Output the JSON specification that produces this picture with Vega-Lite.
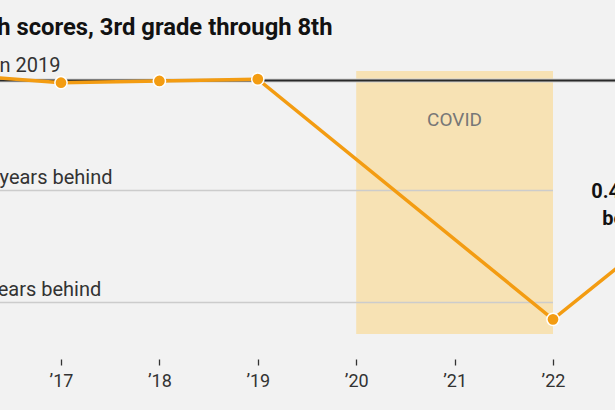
{
  "$schema": "https://vega.github.io/schema/vega-lite/v6.json",
  "width": 615,
  "height": 359,
  "autosize": {"type": "none"},
  "padding": {"left": 0, "top": 0, "right": 0, "bottom": 51},
  "background": "#f2f2f2",
  "config": {
    "view": {"stroke": null},
    "font": "Roboto",
    "axis": {"labelFont": "Roboto", "labelFontSize": 18, "labelColor": "#333333", "tickColor": "#333333", "tickSize": 6, "tickWidth": 1.3, "domain": false, "grid": false, "labelPadding": 7, "title": null}
  },
  "encoding": {
    "x": {"field": "year", "type": "quantitative", "scale": {"domain": [2016.3801, 2022.6301], "nice": false, "zero": false}, "axis": {"values": [2017, 2018, 2019, 2020, 2021, 2022], "labelExpr": "'’' + slice(toString(datum.value), 2)"}},
    "y": {"field": "v", "type": "quantitative", "scale": {"domain": [-0.6273, 0.1813], "nice": false, "zero": false}, "axis": null}
  },
  "layer": [
    {
      "data": {"values": [{"year": 2020, "year2": 2022, "v": 0.0214, "v2": -0.571}]},
      "mark": {"type": "rect", "color": "#f7e2b4"},
      "encoding": {"x2": {"field": "year2"}, "y2": {"field": "v2"}}
    },
    {
      "data": {"values": [{"year": 2016, "year2": 2022, "v": -0.2477}, {"year": 2016, "year2": 2022, "v": -0.5}]},
      "mark": {"type": "rule", "color": "#cccccc", "strokeWidth": 1.5},
      "encoding": {"x2": {"field": "year2"}}
    },
    {
      "data": {"values": [{"year": 2016, "year2": 2023, "v": 0}]},
      "mark": {"type": "rule", "color": "#d2d2d2", "strokeWidth": 4},
      "encoding": {"x2": {"field": "year2"}}
    },
    {
      "data": {"values": [{"year": 2016, "year2": 2023, "v": 0}]},
      "mark": {"type": "rule", "color": "#2a2a2a", "strokeWidth": 2},
      "encoding": {"x2": {"field": "year2"}}
    },
    {
      "data": {"values": [
        {"year": 2016, "v": 0.012},
        {"year": 2017, "v": -0.005},
        {"year": 2018, "v": -0.001},
        {"year": 2019, "v": 0.003},
        {"year": 2022, "v": -0.538},
        {"year": 2023, "v": -0.36}
      ]},
      "mark": {"type": "line", "color": "#f39c12", "strokeWidth": 3.5},
      "encoding": {}
    },
    {
      "data": {"values": [
        {"year": 2016, "v": 0.012},
        {"year": 2017, "v": -0.005},
        {"year": 2018, "v": -0.001},
        {"year": 2019, "v": 0.003},
        {"year": 2022, "v": -0.538},
        {"year": 2023, "v": -0.36}
      ]},
      "mark": {"type": "point", "filled": true, "color": "#f39c12", "size": 150, "stroke": "#ffffff", "strokeWidth": 1.5, "opacity": 1}
    },
    {
      "data": {"values": [
        {"year": 2016, "v": -0.2477, "label": "0.25 years behind"},
        {"year": 2016, "v": -0.5, "label": "0.5 years behind"}
      ]},
      "mark": {"type": "text", "align": "left", "baseline": "alphabetic", "dx": -7, "dy": -6, "fontSize": 20, "color": "#333333"},
      "encoding": {"text": {"field": "label"}}
    },
    {
      "data": {"values": [{"year": 2016, "v": 0, "label": "Grade level in 2019"}]},
      "mark": {"type": "text", "align": "left", "baseline": "alphabetic", "dx": -71, "dy": -8, "fontSize": 20, "color": "#333333"},
      "encoding": {"text": {"field": "label"}}
    },
    {
      "data": {"values": [{"year": 2021, "v": -0.102, "label": "COVID"}]},
      "mark": {"type": "text", "align": "center", "baseline": "alphabetic", "fontSize": 19, "color": "#777777"},
      "encoding": {"text": {"field": "label"}}
    },
    {
      "data": {"values": [{"year": 2016, "v": 0.1025, "label": "Math scores, 3rd grade through 8th"}]},
      "mark": {"type": "text", "align": "left", "baseline": "alphabetic", "dx": -7, "fontSize": 23.8, "fontWeight": "bold", "color": "#121212"},
      "encoding": {"text": {"field": "label"}}
    },
    {
      "data": {"values": [{"year": 2022.81, "v": -0.2646, "label": ["0.4 years", "behind"]}]},
      "mark": {"type": "text", "align": "center", "baseline": "alphabetic", "fontSize": 20, "fontWeight": "bold", "lineHeight": 27, "color": "#121212"},
      "encoding": {"text": {"field": "label"}}
    }
  ]
}
